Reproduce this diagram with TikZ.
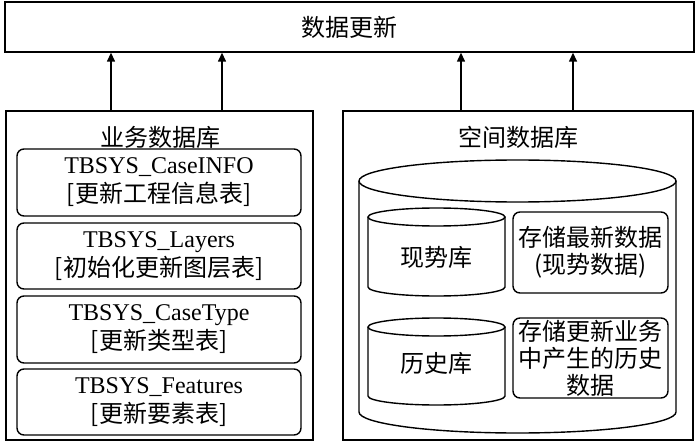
\documentclass[tikz,border=0pt]{standalone}
\usepackage{fontspec}
\setmainfont{Liberation Serif}
\newfontfamily\cjk{Noto Sans CJK SC}
\usetikzlibrary{arrows.meta,positioning}
\tikzset{
  frame/.style={draw, line width=1.4pt, inner sep=0pt},
  tbl/.style={frame, rounded corners=7pt, align=center, minimum width=284pt, minimum height=66pt, font=\fontsize{24}{29}\selectfont},
  note/.style={frame, rounded corners=7pt, align=center, minimum width=155pt, font=\fontsize{24}{27}\selectfont\cjk},
  ttl/.style={inner sep=0pt, font=\fontsize{24}{28}\selectfont\cjk},
  cyl/.style={line width=1.4pt},
  ar/.style={-{Triangle[length=9pt, width=8pt]}, line width=1.4pt},
}

\begin{document}
\begin{tikzpicture}[x=1pt, y=1pt]
  \useasboundingbox (0,0) rectangle (700,442);
  % top
  \node[frame, minimum width=689pt, minimum height=50pt, font=\fontsize{24}{28}\selectfont\cjk] (upd) at (349.5,415) {数据更新};
  % left: business database
  \node[frame, minimum width=307pt, minimum height=329pt] (ywk) at (159.5,166.5) {};
  \node[ttl] (ywkt) at (160,305) {业务数据库};
  \node[tbl, minimum height=67pt] (t1) at (159,259.5) {TBSYS\_CaseINFO\\{\cjk [更新工程信息表]}};
  \node[tbl] (t2) at (159,186) {TBSYS\_Layers\\{\cjk [初始化更新图层表]}};
  \node[tbl, minimum height=67pt] (t3) at (159,112.5) {TBSYS\_CaseType\\{\cjk [更新类型表]}};
  \node[tbl] (t4) at (159,40) {TBSYS\_Features\\{\cjk [更新要素表]}};
  % right: spatial database
  \node[frame, minimum width=350pt, minimum height=329pt] (kjk) at (518,166.5) {};
  \node[ttl] (kjkt) at (518,305) {空间数据库};
  \draw[cyl] (517.5,261) ellipse[x radius=158.5, y radius=21];
  \draw[cyl] (359,261) -- (359,30) arc[start angle=180, end angle=360, x radius=158.5, y radius=21] -- (676,261);
  \foreach \yt/\yb in {225/155, 115/46} {
    \draw[cyl] (436.5,\yt) ellipse[x radius=68.5, y radius=9];
    \draw[cyl] (368,\yt) -- (368,\yb) arc[start angle=180, end angle=360, x radius=68.5, y radius=9] -- (505,\yt);
  }
  \node[ttl] (xsk) at (436.5,185) {现势库};
  \node[ttl] (lsk) at (436.5,79) {历史库};
  \node[note, minimum height=81pt] (na) at (590.5,189.5) {存储最新数据\\(现势数据)};
  \node[note, minimum height=80pt] (nb) at (590.5,84) {存储更新业务\\中产生的历史\\数据};
  % arrows
  \foreach \x in {111,222}
    \draw[ar] (\x,0 |- ywk.north) -- (\x,0 |- upd.south);
  \foreach \x in {461,573}
    \draw[ar] (\x,0 |- kjk.north) -- (\x,0 |- upd.south);
\end{tikzpicture}
\end{document}
